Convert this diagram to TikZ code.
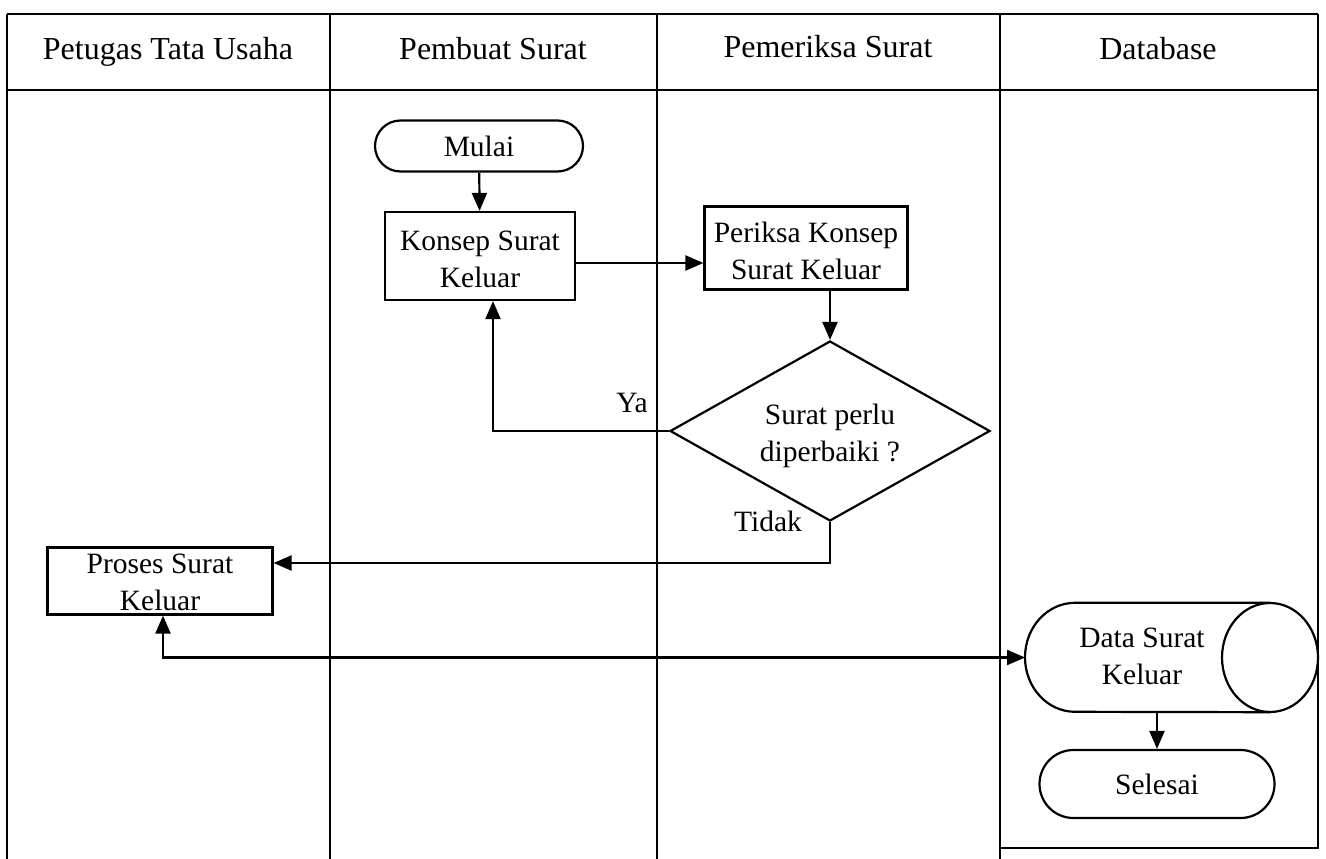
\documentclass[tikz,border=0pt]{standalone}
\usepackage{fontspec}
\setmainfont{Liberation Serif}
\usetikzlibrary{shapes.geometric,shapes.misc,arrows.meta}
\newcommand{\twolines}[2][12pt]{\raisebox{-#1}[0pt][0pt]{\begin{tabular}{@{}c@{}}#2\end{tabular}}}

\begin{document}
\begin{tikzpicture}[x=1pt,y=-1pt,
    lane/.style={line width=1.6pt},
    txt/.style={font=\fontsize{29.5}{37}\selectfont,align=center,inner sep=0pt},
    hdr/.style={font=\fontsize{32}{36}\selectfont,inner sep=0pt,anchor=base},
    proc/.style={draw,line width=2.2pt,txt},
    term/.style={draw,line width=2.2pt,rounded rectangle,txt},
    arr/.style={line width=2.2pt,-{Triangle[length=18pt,width=15pt]}},
    arrb/.style={line width=2.2pt,{Triangle[length=18pt,width=15pt]}-{Triangle[length=18pt,width=15pt]}}]
    \useasboundingbox(0,0) rectangle (1326,859);
    % lanes
    \draw[lane](7,14)--(1318,14);
    \draw[lane](7,90)--(1318,90);
    \draw[lane](7,14)--(7,859);
    \draw[lane](330,14)--(330,859);
    \draw[lane](657,14)--(657,859);
    \draw[lane](1000,14)--(1000,859);
    \draw[lane](1318,14)--(1318,848)--(1000,848);
    \node[hdr](h1) at (168,60) {Petugas Tata Usaha};
    \node[hdr](h2) at (493,60) {Pembuat Surat};
    \node[hdr](h3) at (828,58) {Pemeriksa Surat};
    \node[hdr](h4) at (1158,60) {Database};
    % nodes
    \node[term,minimum width=208pt,minimum height=51pt](mulai) at (479,146) {Mulai};
    \node[proc,minimum width=190pt,minimum height=88pt](konsep) at (480,256) {\twolines{Konsep Surat\\Keluar}};
    \node[proc,minimum width=203pt,minimum height=83pt](periksa) at (806,248) {\twolines{Periksa Konsep\\Surat Keluar}};
    \node[draw,line width=2.2pt,diamond,txt,minimum width=320pt,minimum height=180pt](cek) at (830,431) {\twolines[11pt]{Surat perlu\\diperbaiki ?}};
    \node[proc,minimum width=225pt,minimum height=67pt](proses) at (160,581) {\twolines[9.5pt]{Proses Surat\\Keluar}};
    % data store
    \node[txt,minimum width=293pt,minimum height=109pt](data) at (1171,657.5) {};
    \draw[line width=2.2pt](data.north-|1270,0)--(data.north-|1075,0)
      arc[start angle=270,end angle=90,x radius=50,y radius=54.5]--(data.south-|1270,0);
    \draw[line width=2.2pt](1270,657.5) ellipse[x radius=48,y radius=54.5];
    \node[txt](datatxt) at (1142,657) {\twolines[8pt]{Data Surat\\Keluar}};
    \node[term,minimum width=235pt,minimum height=68pt](selesai) at (1157,784) {Selesai};
    \node[txt](ya) at (632,403) {Ya};
    \node[txt](tidak) at (768,521) {Tidak};
    % connectors
    \draw[arr](mulai)--(konsep);
    \draw[arr](konsep.east|-0,263)--(periksa.west|-0,263);
    \draw[arr](periksa.south-|cek.north)--(cek.north);
    \draw[arr](cek.west)-|([xshift=13pt]konsep.south);
    \draw[arr](cek.south)|-([yshift=18pt]proses.east);
    \draw[arrb]([xshift=3pt]proses.south)|-(data.west-|1025,0);
    \draw[arr](selesai.north|-data.south)--(selesai.north);
  \end{tikzpicture}
\end{document}
